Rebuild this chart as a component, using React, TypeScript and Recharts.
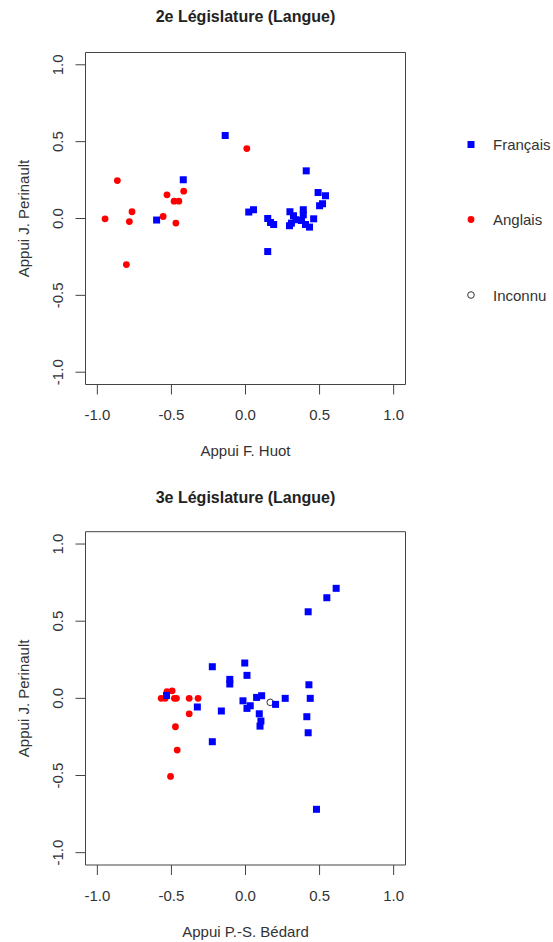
import React from 'react';
import { ScatterChart, Scatter, XAxis, YAxis, ReferenceArea } from 'recharts';

// ---- data (x = appui candidat 1, y = appui J. Perinault) ----
const francais2: [number, number][] = [
  [-0.137, 0.54], [-0.42, 0.252], [-0.60, -0.01], [0.41, 0.31], [0.49, 0.169],
  [0.54, 0.148], [0.50, 0.083], [0.52, 0.096], [0.022, 0.042], [0.054, 0.057],
  [0.30, 0.044], [0.39, 0.057], [0.46, -0.002], [0.15, 0.0], [0.169, -0.026],
  [0.19, -0.039], [0.324, 0.018], [0.34, -0.008], [0.297, -0.047], [0.378, -0.013],
  [0.405, -0.039], [0.432, -0.056], [0.39, 0.024], [0.31, -0.03], [0.15, -0.215],
];
const anglais2: [number, number][] = [
  [-0.865, 0.247], [-0.417, 0.178], [-0.53, 0.154], [-0.482, 0.113], [-0.45, 0.113],
  [-0.766, 0.044], [-0.948, -0.002], [-0.784, -0.02], [-0.556, 0.013], [-0.47, -0.03],
  [-0.804, -0.30], [0.009, 0.455],
];
const inconnu2: [number, number][] = [];

const francais3: [number, number][] = [
  [-0.224, 0.205], [-0.005, 0.229], [0.01, 0.149], [-0.106, 0.123], [-0.106, 0.093],
  [-0.533, 0.019], [-0.325, -0.056], [-0.163, -0.082], [-0.017, -0.016], [0.01, -0.065],
  [0.612, 0.713], [0.549, 0.652], [0.423, 0.561], [0.428, 0.088], [0.437, 0.0],
  [0.268, 0.0], [0.075, 0.006], [0.109, 0.017], [0.203, -0.039], [0.032, -0.048],
  [0.093, -0.10], [0.104, -0.147], [0.098, -0.18], [0.414, -0.119], [0.423, -0.223],
  [-0.224, -0.281], [0.479, -0.719],
];
const anglais3: [number, number][] = [
  [-0.53, 0.043], [-0.495, 0.049], [-0.569, 0.0], [-0.542, 0.0], [-0.48, 0.0],
  [-0.466, 0.0], [-0.38, 0.0], [-0.32, 0.0], [-0.38, -0.10], [-0.473, -0.184],
  [-0.461, -0.335], [-0.506, -0.506],
];
const inconnu3: [number, number][] = [[0.167, -0.026]];

const axisTicks = [-1, -0.5, 0, 0.5, 1];
const legendLabels = ['Français', 'Anglais', 'Inconnu'];

const FONT = '"Liberation Sans", Arial, Helvetica, sans-serif';
const TXT = '#333';

const toPts = (a: [number, number][]) => a.map(([x, y]) => ({ x, y }));

const SquareShape = (p: any) => (
  <rect x={p.cx - 3.5} y={p.cy - 3.5} width={7} height={7} fill="#0000FF" />
);
const DotShape = (p: any) => <circle cx={p.cx} cy={p.cy} r={3.4} fill="#FF0000" />;
const OpenShape = (p: any) => (
  <circle cx={p.cx} cy={p.cy} r={3.3} fill="none" stroke="#333" strokeWidth={1} />
);

const XTick = (p: any) => (
  <text x={p.x} y={p.y + 20} textAnchor="middle" dominantBaseline="central"
    fontSize={15} fill={TXT} fontFamily={FONT}>
    {Number(p.payload.value).toFixed(1)}
  </text>
);
const YTick = (p: any) => (
  <text transform={`translate(${p.x - 18},${p.y}) rotate(-90)`} textAnchor="middle"
    dominantBaseline="central" fontSize={15} fill={TXT} fontFamily={FONT}>
    {Number(p.payload.value).toFixed(1)}
  </text>
);

const W = 553;
const H = 471;
const YW = 40; // y-axis width
const XH = 40; // x-axis height

function Panel({ title, xLabel, fr, an, inc, top, marginTop, marginBottom, titleY }: any) {
  return (
    <div style={{ position: 'absolute', left: 0, top, width: W, height: H }}>
      <div style={{
        position: 'absolute', left: 85.5, width: 320, top: titleY - 10, height: 20,
        textAlign: 'center', fontFamily: FONT, fontWeight: 'bold', fontSize: 16,
        lineHeight: '20px', color: '#222',
      }}>{title}</div>
      <ScatterChart width={W} height={H}
        margin={{ top: marginTop, left: 85.5 - YW, right: W - 405.5, bottom: marginBottom - XH }}>
        <XAxis type="number" dataKey="x" domain={[-1.08, 1.08]} ticks={axisTicks}
          allowDataOverflow height={XH} axisLine={false} tickSize={10} tickMargin={0}
          tickLine={{ stroke: '#444' }} tick={XTick} interval={0}
          label={{
            content: (props: any) => {
              const vb = props.viewBox || {};
              return (
                <text x={vb.x + vb.width / 2} y={vb.y + 66} textAnchor="middle"
                  dominantBaseline="central" fontSize={15} fill={TXT} fontFamily={FONT}>
                  {xLabel}
                </text>
              );
            },
          }} />
        <YAxis type="number" dataKey="y" domain={[-1.08, 1.08]} ticks={axisTicks}
          allowDataOverflow width={YW} axisLine={false} tickSize={10} tickMargin={0}
          tickLine={{ stroke: '#444' }} tick={YTick} interval={0}
          label={{
            content: (props: any) => {
              const vb = props.viewBox || {};
              const cy = vb.y + vb.height / 2;
              return (
                <text transform={`translate(23,${cy}) rotate(-90)`} textAnchor="middle"
                  dominantBaseline="central" fontSize={15} fill={TXT} fontFamily={FONT}>
                  Appui J. Perinault
                </text>
              );
            },
          }} />
        <ReferenceArea x1={-1.08} x2={1.08} y1={-1.08} y2={1.08} fill="none"
          fillOpacity={0} stroke="#444" strokeWidth={1} ifOverflow="visible" />
        <Scatter data={toPts(an)} dataKey="y" shape={DotShape} isAnimationActive={false} />
        <Scatter data={toPts(inc)} dataKey="y" shape={OpenShape} isAnimationActive={false} />
        <Scatter data={toPts(fr)} dataKey="y" shape={SquareShape} isAnimationActive={false} />
      </ScatterChart>
    </div>
  );
}

function LegendBox() {
  const ys = [144.5, 219.5, 295];
  return (
    <svg style={{ position: 'absolute', left: 0, top: 0 }} width={W} height={320}>
      <rect x={467.5} y={ys[0] - 3.5} width={7} height={7} fill="#0000FF" />
      <circle cx={471} cy={ys[1]} r={3.4} fill="#FF0000" />
      <circle cx={471} cy={ys[2]} r={3.3} fill="none" stroke="#333" strokeWidth={1} />
      {legendLabels.map((l, i) => (
        <text key={l} x={493} y={ys[i]} dominantBaseline="central" fontSize={15}
          fill={TXT} fontFamily={FONT}>{l}</text>
      ))}
    </svg>
  );
}

export default function App() {
  return (
    <div style={{ position: 'absolute', left: 0, top: 0, width: W, height: 942, background: '#fff', overflow: 'hidden' }}>
      <Panel title="2e Législature (Langue)" xLabel="Appui F. Huot"
        fr={francais2} an={anglais2} inc={inconnu2}
        top={0} marginTop={52.5} marginBottom={H - 384.5} titleY={16.5} />
      <Panel title="3e Législature (Langue)" xLabel="Appui P.-S. Bédard"
        fr={francais3} an={anglais3} inc={inconnu3}
        top={471} marginTop={531.7 - 471} marginBottom={942 - 865} titleY={498 - 471} />
      <LegendBox />
    </div>
  );
}
